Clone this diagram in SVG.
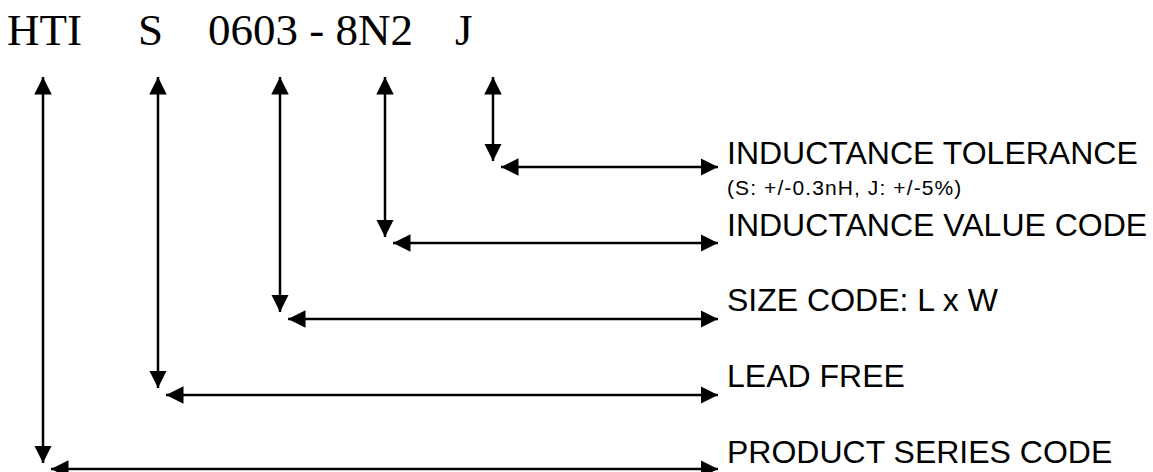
<svg xmlns="http://www.w3.org/2000/svg" width="1153" height="472" viewBox="0 0 1153 472">
<style>
.code{font-family:"Liberation Serif",serif;font-size:45px;fill:#000}
.lbl{font-family:"Liberation Sans",sans-serif;font-size:32px;fill:#000}
.sm{font-family:"Liberation Sans",sans-serif;font-size:21px;letter-spacing:1.1px;fill:#000}
.ln{stroke:#000;stroke-width:2.5;fill:none}
</style>
<defs>
<marker id="ah" viewBox="0 0 10 10" refX="10" refY="5" markerWidth="7" markerHeight="7" markerUnits="strokeWidth" orient="auto-start-reverse">
<path d="M0,0 L10,5 L0,10 z" fill="#000"/>
</marker>
</defs>
<rect width="1153" height="472" fill="#fff"/>
<g id="code">
<text class="code" x="7" y="45">HTI</text>
<text class="code" x="138" y="45">S</text>
<text class="code" x="208" y="45">0603 - 8N2</text>
<text class="code" x="455" y="45">J</text>
</g>
<g id="connectors">
<line class="ln" x1="43" y1="77" x2="43" y2="463" marker-start="url(#ah)" marker-end="url(#ah)"/>
<line class="ln" x1="51" y1="469" x2="718" y2="469" marker-start="url(#ah)" marker-end="url(#ah)"/>
<line class="ln" x1="158" y1="77" x2="158" y2="388" marker-start="url(#ah)" marker-end="url(#ah)"/>
<line class="ln" x1="166" y1="395" x2="718" y2="395" marker-start="url(#ah)" marker-end="url(#ah)"/>
<line class="ln" x1="280" y1="77" x2="280" y2="312" marker-start="url(#ah)" marker-end="url(#ah)"/>
<line class="ln" x1="288" y1="319" x2="718" y2="319" marker-start="url(#ah)" marker-end="url(#ah)"/>
<line class="ln" x1="385" y1="77" x2="385" y2="237" marker-start="url(#ah)" marker-end="url(#ah)"/>
<line class="ln" x1="393" y1="243" x2="718" y2="243" marker-start="url(#ah)" marker-end="url(#ah)"/>
<line class="ln" x1="493" y1="77" x2="493" y2="161" marker-start="url(#ah)" marker-end="url(#ah)"/>
<line class="ln" x1="501" y1="167" x2="718" y2="167" marker-start="url(#ah)" marker-end="url(#ah)"/>
</g>
<g id="tolerance">
<text class="lbl" x="727" y="164">INDUCTANCE TOLERANCE</text>
<text class="sm" x="727" y="195">(S: +/-0.3nH, J: +/-5%)</text>
</g>
<g id="value">
<text class="lbl" x="727" y="236">INDUCTANCE VALUE CODE</text>
</g>
<g id="size">
<text class="lbl" x="727" y="311">SIZE CODE: L x W</text>
</g>
<g id="leadfree">
<text class="lbl" x="727" y="387">LEAD FREE</text>
</g>
<g id="series">
<text class="lbl" x="727" y="463">PRODUCT SERIES CODE</text>
</g>
</svg>
